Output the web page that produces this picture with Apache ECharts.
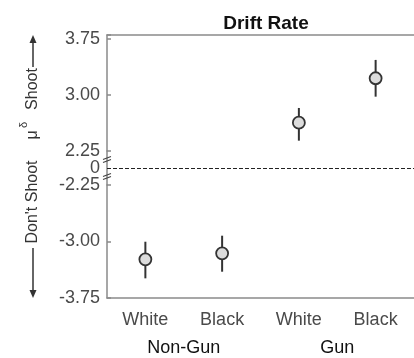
<!DOCTYPE html>
<html>
<head>
<meta charset="utf-8">
<script src="https://cdn.jsdelivr.net/npm/echarts@6/dist/echarts.min.js"></script>
<style>
  html, body { margin: 0; padding: 0; background: #fff; }
  #chart { width: 414px; height: 358px; }
</style>
</head>
<body>
<div id="chart"></div>
<script>
// data
var categories = ['White', 'Black', 'White', 'Black'];
var groups = ['Non-Gun', 'Gun'];
var means = [-3.236, -3.157, 2.628, 3.222];
var lowers = [-3.489, -3.401, 2.388, 2.976];
var uppers = [-3.003, -2.923, 2.825, 3.467];
var breakMarks = [0.5, -0.5];

var FONT = 'Liberation Sans, Arial, sans-serif';
var AXIS_COLOR = '#8a8a8a';
var LABEL_COLOR = '#4a4a4a';
var NAME_COLOR = '#333';

var upperData = [], lowerData = [];
for (var i = 0; i < categories.length; i++) {
    var row = [i, means[i], lowers[i], uppers[i]];
    if (means[i] > 0) upperData.push(row); else lowerData.push(row);
}

function renderPoint(params, api) {
    var c = api.coord([api.value(0), api.value(1)]);
    var lo = api.coord([api.value(0), api.value(2)]);
    var hi = api.coord([api.value(0), api.value(3)]);
    return {
        type: 'group',
        children: [{
            type: 'line',
            shape: { x1: c[0], y1: lo[1], x2: c[0], y2: hi[1] },
            style: { stroke: '#333', lineWidth: 2 }
        }, {
            type: 'circle',
            shape: { cx: c[0], cy: c[1], r: 6 },
            style: { fill: '#dcdcdc', stroke: '#333', lineWidth: 1.8 }
        }]
    };
}

function renderBreak(params, api) {
    var p = api.coord([0, api.value(0)]);
    var x = params.coordSys.x;
    var y = p[1];
    return {
        type: 'group',
        children: [{
            type: 'line',
            shape: { x1: x - 4, y1: y, x2: x + 4, y2: y - 3 },
            style: { stroke: '#444', lineWidth: 1.2 }
        }, {
            type: 'line',
            shape: { x1: x - 4, y1: y + 3, x2: x + 4, y2: y },
            style: { stroke: '#444', lineWidth: 1.2 }
        }]
    };
}

function tickFmt(v) {
    var r = Math.round(v / 0.75) * 0.75;
    if (Math.abs(r - v) > 1e-6) return '';
    return v.toFixed(2);
}

var baseY = {
    type: 'value',
    axisLine: { show: true, lineStyle: { color: AXIS_COLOR, width: 1.5 } },
    axisTick: { show: true, inside: true, length: 4, lineStyle: { color: AXIS_COLOR, width: 1.5 } },
    axisLabel: { fontSize: 18, fontFamily: FONT, color: LABEL_COLOR, margin: 7, formatter: tickFmt },
    splitLine: { show: false }
};

function rotText(txt, x, y, size) {
    return {
        type: 'text', x: x, y: y, rotation: Math.PI / 2,
        style: {
            text: txt, fontSize: size, fontFamily: FONT, fill: NAME_COLOR,
            align: 'center', verticalAlign: 'middle'
        }
    };
}

var chart = echarts.init(document.getElementById('chart'));
chart.setOption({
    animation: false,
    title: {
        text: 'Drift Rate',
        left: 261,
        top: 9,
        textAlign: 'center',
        textStyle: { fontSize: 19, fontWeight: 'bold', fontFamily: FONT, color: '#111' }
    },
    grid: [
        { left: 107, top: 35, width: 320, height: 116 },
        { left: 107, top: 151, width: 320, height: 34 },
        { left: 107, top: 185, width: 320, height: 113 }
    ],
    xAxis: [{
        gridIndex: 0, type: 'category', data: categories, position: 'top',
        axisLine: { lineStyle: { color: AXIS_COLOR, width: 1.5 } },
        axisTick: { inside: true, alignWithLabel: true, length: 4, lineStyle: { color: AXIS_COLOR, width: 1.5 } },
        axisLabel: { show: false }
    }, {
        gridIndex: 1, type: 'category', data: categories, show: false
    }, {
        gridIndex: 2, type: 'category', data: categories, position: 'bottom',
        axisLine: { lineStyle: { color: AXIS_COLOR, width: 1.5 } },
        axisTick: { inside: true, alignWithLabel: true, length: 4, lineStyle: { color: AXIS_COLOR, width: 1.5 } },
        axisLabel: { fontSize: 18, fontFamily: FONT, color: LABEL_COLOR, margin: 13 }
    }, {
        gridIndex: 2, type: 'category', data: groups, position: 'bottom', offset: 29,
        axisLine: { show: false },
        axisTick: { show: false },
        axisLabel: { fontSize: 18, fontFamily: FONT, color: '#111', margin: 12 }
    }],
    yAxis: [
        Object.assign({}, baseY, { gridIndex: 0, min: 2.25, max: 3.8, interval: 0.75 }),
        Object.assign({}, baseY, {
            gridIndex: 1, min: -1, max: 1, interval: 1,
            axisTick: { show: false },
            axisLabel: { fontSize: 18, fontFamily: FONT, color: LABEL_COLOR, margin: 7,
                formatter: function (v) { return v === 0 ? '0' : ''; } }
        }),
        Object.assign({}, baseY, { gridIndex: 2, min: -3.75, max: -2.25, interval: 0.75 })
    ],
    series: [{
        type: 'custom', xAxisIndex: 0, yAxisIndex: 0,
        renderItem: renderPoint, data: upperData, z: 5
    }, {
        type: 'custom', xAxisIndex: 2, yAxisIndex: 2,
        renderItem: renderPoint, data: lowerData, z: 5
    }, {
        type: 'custom', xAxisIndex: 1, yAxisIndex: 1,
        renderItem: renderBreak, data: breakMarks.map(function (b) { return [b]; }),
        encode: { y: 0 },
        markLine: {
            silent: true, symbol: 'none', label: { show: false },
            lineStyle: { color: '#222', width: 1.2, type: [4, 2] },
            data: [{ yAxis: 0 }]
        }
    }],
    graphic: [
        rotText("Don't Shoot", 33, 202, 16),
        rotText('μ', 33, 135, 16),
        rotText('δ', 24, 125, 11),
        rotText('Shoot', 33, 89, 16),
        { type: 'line', shape: { x1: 33, y1: 67, x2: 33, y2: 41 }, style: { stroke: NAME_COLOR, lineWidth: 1.5 } },
        { type: 'polygon', shape: { points: [[33, 35], [29.5, 43], [36.5, 43]] }, style: { fill: NAME_COLOR } },
        { type: 'line', shape: { x1: 33, y1: 248, x2: 33, y2: 292 }, style: { stroke: NAME_COLOR, lineWidth: 1.5 } },
        { type: 'polygon', shape: { points: [[33, 298], [29.5, 290], [36.5, 290]] }, style: { fill: NAME_COLOR } }
    ]
});
</script>
</body>
</html>
